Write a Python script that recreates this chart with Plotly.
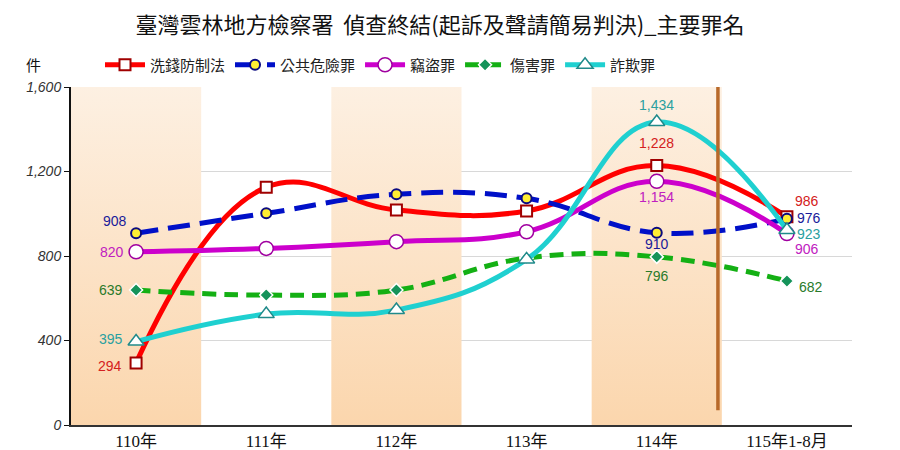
import plotly.graph_objects as go

# 年度類別
years = ['110年', '111年', '112年', '113年', '114年', '115年1-8月']

# 各罪名件數
money_laundering = [294, 1125, 1018, 1013, 1228, 986]   # 洗錢防制法
public_danger = [908, 1002, 1092, 1073, 910, 976]       # 公共危險罪
theft = [820, 836, 868, 915, 1154, 906]                 # 竊盜罪
injury = [639, 615, 639, 790, 796, 682]                 # 傷害罪
fraud = [395, 525, 544, 784, 1434, 923]                 # 詐欺罪

y_ticks = [0, 400, 800, 1200, 1600]

# page body has an 8px margin, so the figure is drawn 8px smaller
W, H = 892, 442

xs = list(range(len(years)))
fig = go.Figure()

# 底色區塊 (110、112、114年)
for i in (0, 2, 4):
    fig.add_trace(go.Scatter(
        x=[i - 0.5, i + 0.5, i + 0.5, i - 0.5, i - 0.5],
        y=[0, 0, y_ticks[-1], y_ticks[-1], 0],
        mode='lines', line=dict(width=0), fill='toself',
        fillgradient=dict(type='vertical',
                          colorscale=[[0, '#fbd6ad'], [1, '#fdf0e2']]),
        hoverinfo='skip', showlegend=False,
    ))

font = 'Liberation Sans, Arial, sans-serif'
cjk = 'Noto Sans CJK TC'

# label offsets per point: (xanchor, xshift, yshift); None = no label
series = [
    dict(name='洗錢防制法', y=money_laundering, color='#ff0000', tc='#d42020',
         dash='solid', marker=dict(symbol='square', size=11, color='white',
                                   line=dict(color='#a00000', width=2)),
         lab=[('right', -12, -3), None, None, None, ('center', 0, 23), ('center', 20, 16)]),
    dict(name='公共危險罪', y=public_danger, color='#0010c8', tc='#1a1a9a',
         dash='22px,10px', marker=dict(symbol='circle', size=10, color='#ffee33',
                                       line=dict(color='#0a0a80', width=2)),
         lab=[('right', -7, 12), None, None, None, ('center', 0, -11), ('left', 8, 1)]),
    dict(name='竊盜罪', y=theft, color='#cc00cc', tc='#c020c0',
         dash='solid', marker=dict(symbol='circle', size=14, color='white',
                                   line=dict(color='#a000a0', width=1.5)),
         lab=[('right', -10, 0), None, None, None, ('center', 0, -16), ('center', 20, -15)]),
    dict(name='傷害罪', y=injury, color='#14b014', tc='#2a7a2a',
         dash='14px,8px', marker=dict(symbol='diamond', size=10, color='#15935a',
                                      line=dict(color='white', width=1.5)),
         lab=[('right', -11, 0), None, None, None, ('center', 0, -19), ('left', 10, -6)]),
    dict(name='詐欺罪', y=fraud, color='#1fd0d0', tc='#2aa0a0',
         dash='solid', marker=dict(symbol='triangle-up', size=14, color='white',
                                   line=dict(color='#208a8a', width=1.5)),
         lab=[('right', -11, 3), None, None, None, ('center', 0, 17), ('left', 8, -4)]),
]

annotations = []
for s in series:
    fig.add_trace(go.Scatter(
        x=xs, y=s['y'], name=s['name'],
        mode='lines+markers',
        line=dict(color=s['color'], width=5, shape='spline', smoothing=1.2,
                  dash=s['dash']),
        marker=s['marker'],
        cliponaxis=False,
    ))
    for x, v, lab in zip(xs, s['y'], s['lab']):
        if lab is None:
            continue
        xa, dx, dy = lab
        annotations.append(dict(
            x=x, y=v, xref='x', yref='y', text=f'{v:,}', showarrow=False,
            xanchor=xa, yanchor='middle', xshift=dx, yshift=dy,
            font=dict(family=font, size=14, color=s['tc'])))

annotations.append(dict(text='件', xref='paper', yref='paper', x=0, y=1 + 22 / 338,
                        xanchor='right', yanchor='middle', xshift=-28,
                        showarrow=False,
                        font=dict(family=cjk, size=15, color='#111111')))

fig.update_layout(
    width=W, height=H,
    margin=dict(l=63, r=48, t=79, b=25, autoexpand=False),
    paper_bgcolor='white', plot_bgcolor='white',
    title=dict(text='臺灣雲林地方檢察署  偵查終結(起訴及聲請簡易判決)_主要罪名',
               x=432 / W, xanchor='center', y=1 - 17 / H, yanchor='middle',
               font=dict(family=cjk, size=22, color='#111111')),
    legend=dict(orientation='h', xref='container', yref='container',
                x=92 / W, xanchor='left', y=1 - 57 / H, yanchor='middle',
                font=dict(family=cjk, size=15, color='#222222'),
                itemwidth=40, bgcolor='rgba(0,0,0,0)'),
    xaxis=dict(range=[-0.5, 5.5], tickvals=xs, ticktext=years,
               showgrid=False, zeroline=False,
               showline=True, linecolor='#333333', linewidth=1.5,
               tickfont=dict(family='Liberation Serif, Noto Sans CJK TC',
                             size=17, color='#111111')),
    yaxis=dict(range=[0, 1600], tickvals=y_ticks, tickformat=',',
               showgrid=True, gridcolor='#d8d8d8', gridwidth=1, zeroline=False,
               showline=True, linecolor='#111111', linewidth=2,
               ticks='outside', ticklen=5, tickcolor='#111111',
               tickfont=dict(family=font, size=14, color='#333333', style='italic')),
    shapes=[dict(type='line', xref='x', yref='y', x0=4.47, x1=4.47, y0=70, y1=1600,
                 line=dict(color='#b8692a', width=3.5))],
    annotations=annotations,
)

fig.write_html('out.html')
